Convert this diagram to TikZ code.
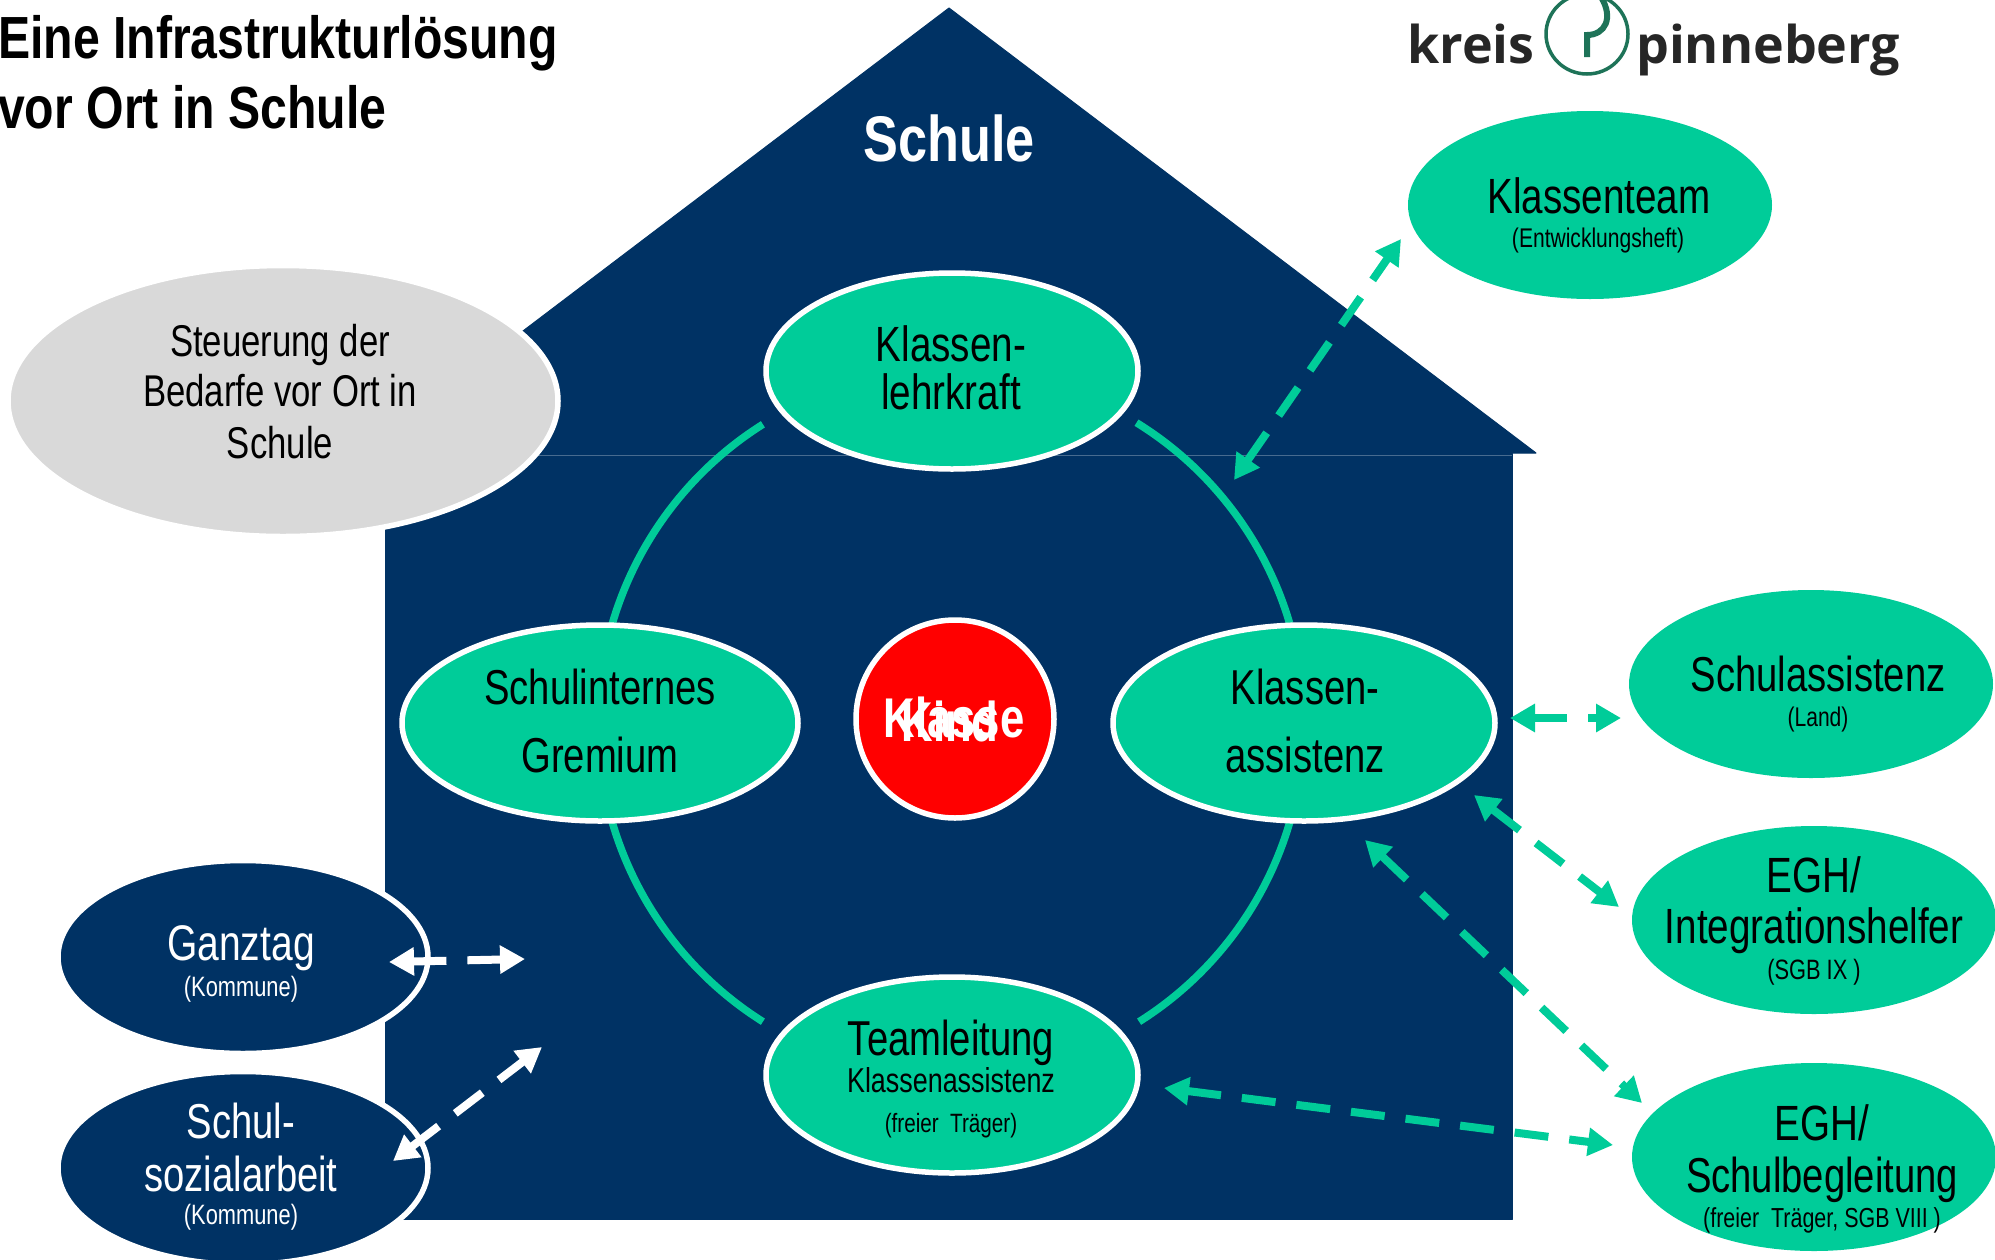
\documentclass[tikz,border=0pt]{standalone}
\usepackage{fontspec}
\usetikzlibrary{shapes.geometric,arrows.meta}
\setmainfont{Liberation Sans}
\newfontfamily\nf[FakeStretch=.78]{Liberation Sans}
\newfontfamily\tfont[FakeStretch=.81]{Liberation Sans}
\newfontfamily\logofont{Open Sans}
\definecolor{navy}{HTML}{003264}
\definecolor{grn}{HTML}{00CC99}
\definecolor{lgrey}{HTML}{D9D9D9}
\definecolor{logog}{HTML}{1E7358}
% one text line: dx, dy (baseline below the node centre), size, text
\newcommand\Ln[4]{\raisebox{-#2pt}[0pt][0pt]{\makebox[0pt]{\hspace*{#1pt}\hspace*{#1pt}\fontsize{#3}{#3}\selectfont #4}}}
\tikzset{
  ell/.style={ellipse,inner sep=0pt,line width=5.5pt,draw=white,font=\nf,text=black},
  teal/.style={ell,fill=grn},
  tealfree/.style={ell,fill=grn,draw=none,minimum width=364pt,minimum height=188pt},
  inner/.style={teal,minimum height=196pt},
  dark/.style={ell,fill=navy,text=white,minimum width=370pt,minimum height=193pt},
  ring/.style={draw=grn,line width=7.5pt},
  link/.style={line width=8pt,dash pattern=on 34pt off 21pt,
    {Triangle[length=25pt,width=27pt]}-{Triangle[length=25pt,width=27pt]}},
  glink/.style={link,draw=grn,color=grn},
  wlink/.style={link,draw=white,color=white},
  freetext/.style={inner sep=0pt,anchor=base},
}
\begin{document}
\begin{tikzpicture}[x=1pt,y=-1pt]
\useasboundingbox (0,0) rectangle (1995,1259);
% house
\path[fill=navy,draw=navy,line width=1pt,line join=round] (949,8) -- (1536,453) -- (362,453) -- cycle;
\path[fill=navy,draw=navy,line width=1pt,line join=round] (385,453) rectangle (1512,1219);
\draw[draw=navy!72!white,line width=.8pt] (530,455.5) -- (1512,455.5);
% ring
\coordinate (c) at (951,723);
\draw[ring] (c) ++(122.2:353pt) arc[start angle=122.2,end angle=163.7,radius=353pt];
\draw[ring] (c) ++(58.3:353pt) arc[start angle=58.3,end angle=16.4,radius=353pt];
\draw[ring] (c) ++(196.3:353pt) arc[start angle=196.3,end angle=237.8,radius=353pt];
\draw[ring] (c) ++(-16.3:353pt) arc[start angle=-16.3,end angle=-57.8,radius=353pt];
% grey
\node[ell,fill=lgrey,minimum width=550pt,minimum height=271pt] (steuerung) at (283,401)
  {\Ln{-3}{-45}{44.5}{Steuerung der}\Ln{-3}{5}{44.5}{Bedarfe vor Ort in}\Ln{-3}{57}{44.5}{Schule}};
% inner ellipses
\node[inner,minimum width=372pt] (lehr) at (952,371)
  {\Ln{-1}{-10}{49.5}{Klassen-}\Ln{-1}{38}{49.5}{lehrkraft}};
\node[inner,minimum width=396pt] (gremium) at (600,723)
  {\Ln{0}{-19}{49}{Schulinternes}\Ln{0}{49}{49}{Gremium}};
\node[inner,minimum width=382pt] (assistenz) at (1304,723)
  {\Ln{1}{-19}{49}{Klassen-}\Ln{1}{49}{49}{assistenz}};
\node[inner,minimum width=372pt] (team) at (952,1075)
  {\Ln{-1}{-20}{49}{Teamleitung}\Ln{-1}{17}{34.5}{Klassenassistenz}\Ln{-1}{57}{26.5}{(freier\ \ Träger)}};
\node[circle,fill=red,draw=white,line width=5.5pt,minimum size=198pt,inner sep=0pt,text=white,font=\nf\bfseries] (klasse) at (955,719)
  {\Ln{-1}{18}{56}{Klasse}};
\node[inner sep=0pt,text=white,font=\nf\bfseries] (kind) at (955,719) {\Ln{-5}{22}{56}{Kind}};
% outer ellipses
\node[tealfree] (kteam) at (1590,205)
  {\Ln{9}{8}{49.5}{Klassenteam}\Ln{8}{42}{27}{(Entwicklungsheft)}};
\node[tealfree] (sassist) at (1811,684)
  {\Ln{7}{7}{49}{Schulassistenz}\Ln{7}{42}{27}{(Land)}};
\node[tealfree] (integ) at (1814,920)
  {\Ln{0}{-28}{49.5}{EGH/}\Ln{0}{23}{49.5}{Integrationshelfer}\Ln{0}{59}{28}{(SGB IX )}};
\node[tealfree] (begl) at (1814,1157)
  {\Ln{8}{-17}{49.5}{EGH/}\Ln{8}{35}{49}{Schulbegleitung}\Ln{8}{70}{27.5}{(freier\ \ Träger, SGB VIII )}};
\node[dark] (ganztag) at (243,957)
  {\Ln{-2}{3}{50}{Ganztag}\Ln{-2}{39}{28}{(Kommune)}};
\node[dark] (sozial) at (243,1168)
  {\Ln{-2}{-30}{49}{Schul-}\Ln{-2}{23}{49}{sozialarbeit}\Ln{-2}{56}{28}{(Kommune)}};
% free ends
\coordinate (a1) at (1234,480); \coordinate (a2) at (1401,239);
\coordinate (b1) at (1510,718); \coordinate (b2) at (1621,718);
\coordinate (d1) at (1474,795); \coordinate (d2) at (1619,907);
\coordinate (e1) at (1365,840); \coordinate (e2) at (1642,1103);
\coordinate (f1) at (1164,1088); \coordinate (f2) at (1613,1145);
\coordinate (g1) at (389,962); \coordinate (g2) at (525,959);
\coordinate (h1) at (393,1161); \coordinate (h2) at (542,1047);
\draw[glink] (a1) -- (a2);
\draw[glink] (b1) -- (b2);
\draw[glink] (d1) -- (d2);
\draw[glink] (e1) -- (e2);
\draw[glink] (f1) -- (f2);
\draw[wlink] (g1) -- (g2);
\draw[wlink] (h1) -- (h2);
% title
\node[freetext,anchor=base west,font=\tfont\bfseries\fontsize{59.5}{59.5}\selectfont] (title1) at (-2,58) {Eine Infrastrukturlösung};
\node[freetext,anchor=base west,font=\tfont\bfseries\fontsize{59.5}{59.5}\selectfont] (title2) at (-2,128) {vor Ort in Schule};
\node[freetext,text=white,font=\tfont\bfseries\fontsize{64.5}{64.5}\selectfont] (schule) at (949,161) {Schule};
% logo
\node[freetext,anchor=base west,text=black!85,font=\logofont\bfseries\fontsize{52}{52}\selectfont] (kreis) at (1407,63) {kreis};
\node[freetext,anchor=base west,text=black!85,font=\logofont\bfseries\fontsize{52}{52}\selectfont] (pinne) at (1636,63) {pinneberg};
\draw[draw=logog,line width=3.5pt] (1587,34) ellipse[x radius=41pt,y radius=40pt];
\draw[draw=logog,line width=6pt] (1587,57) -- (1587,35) .. controls (1605,35) and (1614,18) .. (1601,-3);
\end{tikzpicture}
\end{document}
